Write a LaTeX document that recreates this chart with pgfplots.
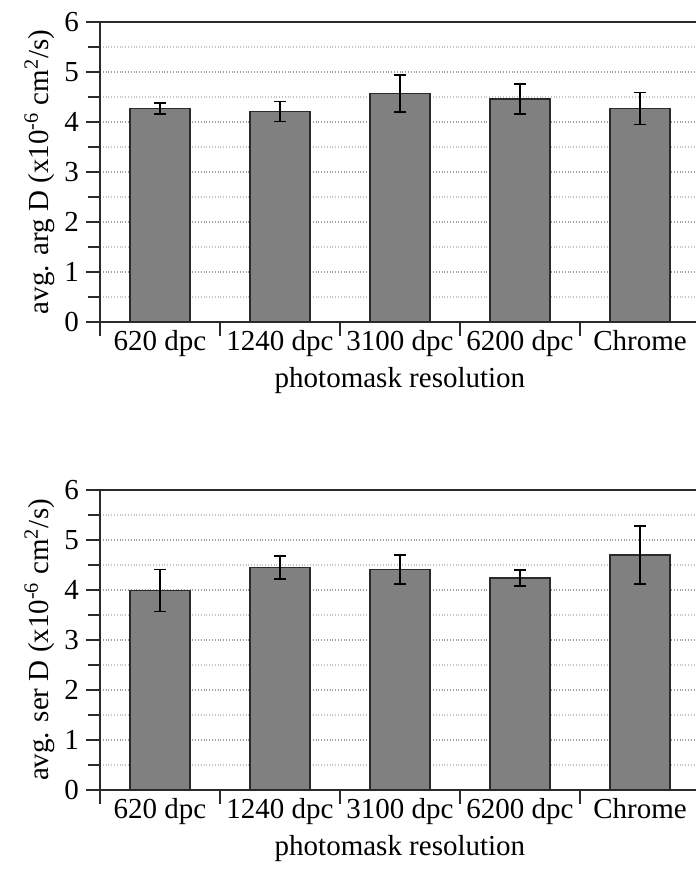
\documentclass[border=0pt]{standalone}
\usepackage{pgfplots}
\pgfplotsset{compat=1.18}
\usepackage{pgfplotstable}
\usepackage{fontspec}
\setmainfont{Liberation Serif}

\definecolor{barfill}{HTML}{808080}
\definecolor{barline}{HTML}{2A2A2A}

% category, mean, error
\pgfplotstableread{
x y e
0 4.27 0.11
1 4.21 0.20
2 4.57 0.37
3 4.46 0.30
4 4.27 0.32
}\argdata

\pgfplotstableread{
x y e
0 3.99 0.42
1 4.45 0.23
2 4.41 0.29
3 4.24 0.16
4 4.70 0.58
}\serdata

\pgfplotsset{
  dpcaxis/.style={
    scale only axis,
    width=300pt, height=150pt,
    xmin=-0.5, xmax=4.5,
    ymin=0, ymax=6,
    % category boundaries carry the ticks, names sit between them
    xtick={-0.5,0.5,1.5,2.5,3.5,4.5},
    xticklabels={},
    extra x ticks={0,1,2,3,4},
    extra x tick labels={620 dpc,1240 dpc,3100 dpc,6200 dpc,Chrome},
    extra x tick style={tick style={draw=none}},
    xticklabel style={yshift=6.5pt},
    ytick={0,1,...,6},
    minor ytick={0.5,1.5,...,5.5},
    tick pos=left,
    tick align=outside,
    major tick length=7pt,
    minor tick length=6pt,
    tick style={barline, line width=0.8pt},
    ymajorgrids, yminorgrids,
    major grid style={densely dotted, gray!75, line width=0.6pt},
    minor grid style={densely dotted, gray!45, line width=0.6pt},
    axis line style={barline, line width=0.9pt},
    /pgf/number format/assume math mode=true,
    tick label style={font=\fontsize{14.5}{17}\selectfont},
    label style={font=\fontsize{14.5}{17}\selectfont},
    xlabel={photomask resolution},
    xlabel style={yshift=8.5pt},
    ylabel shift=-2pt,
    ybar, bar width=30pt,
  },
  dpcbars/.style={
    fill=barfill, draw=barline, line width=0.8pt,
    error bars/.cd, y dir=both, y explicit,
    error bar style={black, line width=0.8pt},
    error mark options={rotate=90, mark size=3pt, line width=0.8pt, black},
  },
}

\begin{document}
\begin{tikzpicture}
\begin{axis}[dpcaxis, at={(50pt,-161pt)}, anchor=south west,
    ylabel={avg. arg D (x10\textsuperscript{-6} cm\textsuperscript{2}/s)}]
  \addplot[dpcbars] table[x=x, y=y, y error=e] {\argdata};
\end{axis}

\begin{axis}[dpcaxis, at={(50pt,-395pt)}, anchor=south west,
    ylabel={avg. ser D (x10\textsuperscript{-6} cm\textsuperscript{2}/s)}]
  \addplot[dpcbars] table[x=x, y=y, y error=e] {\serdata};
\end{axis}

\pgfresetboundingbox
\path (0pt,0pt) rectangle (348pt,-442pt);
\end{tikzpicture}
\end{document}
